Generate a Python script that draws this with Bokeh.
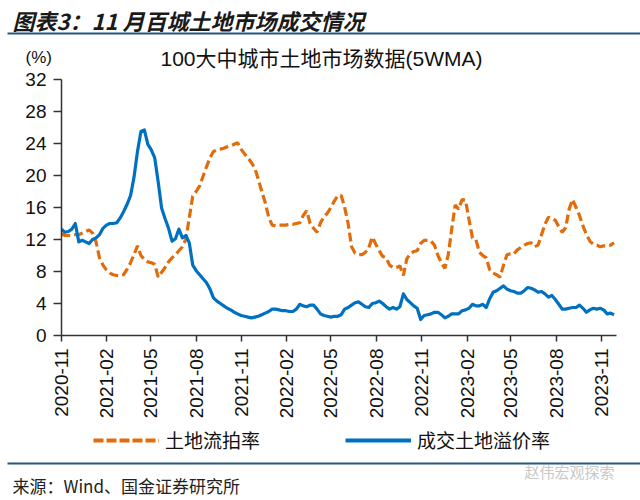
import numpy as np
import pandas as pd
from bokeh.plotting import figure
from bokeh.layouts import column
from bokeh.models import (Range1d, FixedTicker, DatetimeTickFormatter, Label,
                          Legend, LegendItem, BoxAnnotation)
from bokeh.embed import file_html
from bokeh.resources import INLINE

# ---------------- data ----------------
week_start = "2020-11-01"          # first weekly observation (5WMA)
liupai = [  # 土地流拍率 (%)
    12.7, 12.5, 12.5, 12.5, 12.6, 12.6, 12.8, 13.0, 13.2, 12.8,
    11.7, 9.7, 8.8, 8.2, 7.8, 7.6, 7.5, 7.5, 7.6, 8.3,
    9.1, 10.1, 11.2, 10.0, 9.5, 9.2, 9.1, 8.9, 7.3, 7.9,
    8.5, 9.2, 9.7, 10.1, 10.6, 11.1, 12.0, 14.7, 17.4, 18.0,
    18.7, 19.9, 21.1, 22.2, 23.0, 23.2, 23.3, 23.4, 23.6, 23.7,
    23.9, 24.1, 23.3, 22.7, 22.2, 21.6, 20.9, 19.5, 18.0, 16.6,
    14.8, 13.8, 13.7, 13.8, 13.8, 13.8, 13.9, 13.9, 14.0, 14.1,
    15.0, 15.6, 14.0, 13.4, 12.9, 14.1, 14.8, 15.3, 16.0, 16.8,
    17.5, 17.5, 16.0, 14.0, 11.1, 10.3, 10.1, 10.1, 10.4, 11.0,
    12.3, 11.4, 10.6, 9.9, 9.7, 8.8, 8.5, 8.5, 8.7, 7.5,
    9.6, 10.2, 10.5, 10.6, 11.5, 11.9, 11.9, 11.8, 11.3, 10.0,
    9.1, 8.4, 10.1, 13.3, 16.3, 15.8, 17.0, 16.9, 14.5, 12.2,
    12.0, 10.4, 10.0, 9.7, 8.2, 7.8, 7.6, 7.3, 8.8, 10.1,
    10.2, 10.2, 10.7, 11.0, 11.3, 11.5, 11.6, 11.1, 11.3, 12.6,
    13.9, 14.8, 14.6, 14.4, 13.6, 12.9, 13.5, 15.8, 17.0, 16.0,
    15.0, 13.7, 12.6, 11.8, 11.4, 11.3, 11.1, 11.2, 11.2, 11.3,
    11.6,
]
yijia = [  # 成交土地溢价率 (%)
    13.3, 12.9, 13.0, 13.3, 14.0, 11.7, 11.9, 11.7, 11.5, 12.0,
    12.2, 12.6, 13.4, 13.8, 14.0, 14.0, 14.1, 14.7, 15.5, 16.4,
    17.5, 19.8, 23.0, 25.5, 25.7, 23.9, 23.2, 22.2, 19.2, 15.9,
    14.6, 13.4, 11.8, 12.1, 13.3, 12.2, 12.5, 11.6, 8.8, 8.1,
    7.6, 7.1, 6.6, 5.8, 4.7, 4.3, 4.0, 3.7, 3.4, 3.2,
    2.9, 2.7, 2.5, 2.4, 2.3, 2.2, 2.3, 2.4, 2.6, 2.8,
    3.0, 3.3, 3.3, 3.2, 3.1, 3.1, 3.0, 3.0, 3.3, 3.9,
    3.7, 3.6, 3.8, 3.8, 3.3, 2.7, 2.5, 2.4, 2.3, 2.4,
    2.4, 2.6, 3.3, 3.5, 3.8, 4.1, 4.2, 3.9, 3.6, 3.5,
    4.0, 4.1, 4.3, 4.0, 3.6, 3.3, 3.5, 3.3, 3.6, 5.2,
    4.5, 4.1, 3.7, 3.4, 2.0, 2.5, 2.6, 2.7, 2.9, 2.9,
    2.6, 2.2, 2.4, 2.7, 2.7, 2.7, 3.1, 3.2, 3.4, 3.9,
    3.7, 3.7, 3.9, 3.5, 4.6, 5.4, 5.6, 5.9, 6.2, 5.8,
    5.6, 5.5, 5.3, 5.3, 5.6, 6.0, 5.9, 5.7, 5.4, 5.5,
    5.2, 4.8, 5.0, 4.5, 3.9, 3.3, 3.3, 3.4, 3.5, 3.5,
    3.8, 3.4, 2.9, 3.2, 3.4, 3.3, 3.4, 3.2, 2.7, 2.8,
    2.6,
]
x_tick_labels = ["2020-11", "2021-02", "2021-05", "2021-08", "2021-11",
                 "2022-02", "2022-05", "2022-08", "2022-11", "2023-02",
                 "2023-05", "2023-08", "2023-11"]
y_ticks = [0, 4, 8, 12, 16, 20, 24, 28, 32]
series_names = ["土地流拍率", "成交土地溢价率"]

# ---------------- styling ----------------
ORANGE = "#E36C0A"
BLUE = "#0070C0"
RULE = "#24587E"
LATIN = "Liberation Sans"
CJK = "Noto Sans CJK SC"
MIX = "'Liberation Sans', 'Noto Sans CJK SC'"

W = 640
A_H, B_TOP, B_BOT, C_H = 70, 70, 425, 74
FL, FT, FR, FB = 61, 79, 616, 335   # chart frame edges (page pixels)


def no_align(f):
    try:
        f.frame_align = False
    except Exception:
        pass


def blank(height, y0):
    f = figure(width=W, height=height, output_backend="svg",
               toolbar_location=None, x_axis_location=None,
               y_axis_location=None, min_border=0,
               x_range=Range1d(0, W), y_range=Range1d(y0 + height, y0))
    f.outline_line_color = None
    f.grid.visible = False
    f.background_fill_color = "white"
    f.border_fill_color = "white"
    no_align(f)
    return f


def lab(f, text, px, py, size, font, align="left", style="normal",
        color="#111111"):
    f.add_layout(Label(x=px, y=py, text=text, text_font=font,
                       text_font_size=size, text_font_style=style,
                       text_color=color, text_align=align,
                       text_baseline="middle"))


def rule(f, py):
    f.add_layout(BoxAnnotation(left=7, right=W, top=py - 1, bottom=py + 1,
                               fill_color=RULE, fill_alpha=1,
                               line_color=None))


# ---------------- header ----------------
a = blank(A_H, 0)
lab(a, "图表3：11 月百城土地市场成交情况", 12, 19, "22px", CJK,
    style="bold italic", color="#1a1a1a")
rule(a, 33)
lab(a, "(%)", 25, 57, "17px", LATIN)
lab(a, "100大中城市土地市场数据(5WMA)", 321, 57.5, "21px", MIX, align="center")

# ---------------- chart ----------------
dates = pd.date_range(week_start, periods=len(liupai), freq="7D")
tick_ms = [pd.Timestamp(t + "-01").value // 10**6 for t in x_tick_labels]

p = figure(width=W, height=B_BOT - B_TOP, output_backend="svg",
           toolbar_location=None, x_axis_type="datetime",
           x_range=Range1d(pd.Timestamp("2020-11-01"), pd.Timestamp("2023-12-01")),
           y_range=Range1d(0, 32),
           min_border_left=FL, min_border_right=W - FR,
           min_border_top=FT - B_TOP, min_border_bottom=B_BOT - FB)
p.background_fill_color = "white"
p.border_fill_color = "white"
p.outline_line_color = None
p.grid.visible = False
no_align(p)

r1 = p.line(dates, liupai, line_color=ORANGE, line_width=3.2, line_dash="9 4")
r2 = p.line(dates, yijia, line_color=BLUE, line_width=3.2, line_join="round")

for ax in (p.xaxis[0], p.yaxis[0]):
    ax.axis_line_color = "#333333"
    ax.axis_line_width = 1.5
    ax.major_tick_line_color = "#333333"
    ax.major_tick_line_width = 1.5
    ax.minor_tick_line_color = None
    ax.major_tick_in = 0
    ax.major_label_text_font = LATIN
    ax.major_label_text_font_size = "19px"
    ax.major_label_text_color = "#111111"

p.yaxis.ticker = FixedTicker(ticks=y_ticks)
p.yaxis.major_tick_out = 8
p.yaxis.major_label_standoff = 7

p.xaxis.ticker = FixedTicker(ticks=tick_ms)
fmt = "%Y-%m"
p.xaxis.formatter = DatetimeTickFormatter(
    milliseconds=fmt, seconds=fmt, minsec=fmt, minutes=fmt, hourmin=fmt,
    hours=fmt, days=fmt, months=fmt, years=fmt)
p.xaxis.major_tick_out = 6
p.xaxis.major_label_standoff = 7
p.xaxis.major_label_orientation = np.pi / 2

# ---------------- footer: legend, rule, source ----------------
c = blank(C_H, B_BOT)
s1 = c.line([np.nan], [np.nan], line_color=ORANGE, line_width=4,
            line_dash="10 3")
s2 = c.line([np.nan], [np.nan], line_color=BLUE, line_width=4)
legend = Legend(items=[LegendItem(label=series_names[0], renderers=[s1]),
                       LegendItem(label=series_names[1], renderers=[s2])],
                location=(93, B_BOT + C_H - 453), orientation="horizontal",
                glyph_width=66, glyph_height=20, label_standoff=6, spacing=85,
                padding=0, margin=0, border_line_color=None,
                background_fill_alpha=0, label_text_font=CJK,
                label_text_font_size="19px", label_text_color="#111111")
c.add_layout(legend, "center")
rule(c, 463)
lab(c, "赵伟宏观探索", 524, 471, "15px", CJK, color="#c8c8c8")
lab(c, "来源：Wind、国金证券研究所", 12, 485, "17px", CJK, color="#222222")

layout = column(a, p, c, spacing=0)
open("out.html", "w").write(file_html(layout, INLINE))
